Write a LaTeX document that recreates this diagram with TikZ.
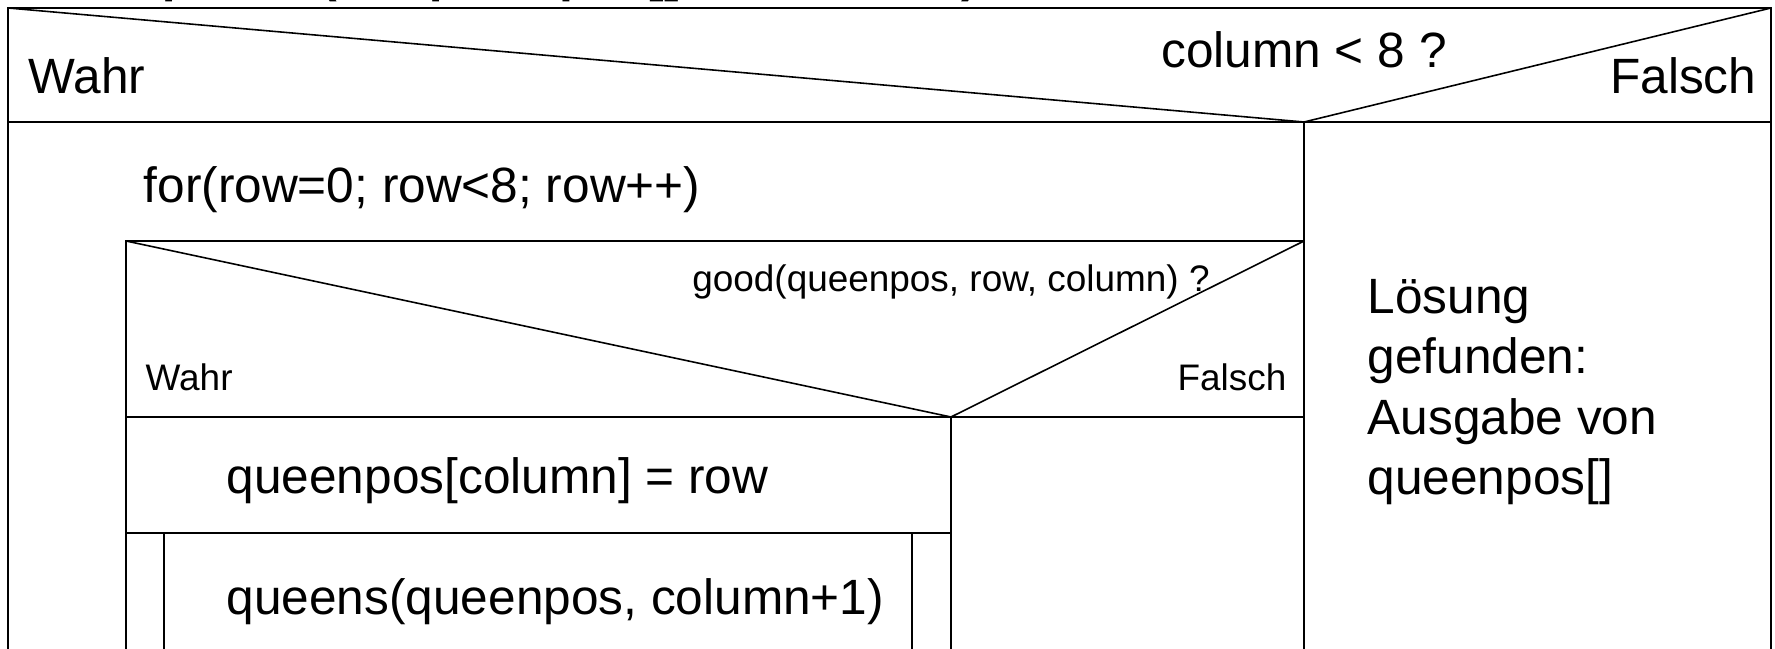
\documentclass[tikz,border=0pt]{standalone}
\usepackage{fontspec}
\setmainfont{Liberation Sans}
\usetikzlibrary{positioning}

\begin{document}
\begin{tikzpicture}[
  x=0.01cm, y=-0.01cm,
  line/.style={draw, line width=0.45pt},
  big/.style={inner sep=0pt, font=\fontsize{14.1}{17.1}\selectfont},
  small/.style={inner sep=0pt, font=\fontsize{10.5}{12.6}\selectfont},
  headline/.style={inner sep=0pt, font=\fontsize{14.2}{17}\selectfont\bfseries}
]
\useasboundingbox (0,0) rectangle (1775,649);

% corners of the blocks
\coordinate (tl) at (8,8);
\coordinate (tr) at (1771,8);
\coordinate (split) at (1304,122);
\coordinate (loop) at (126,241);
\coordinate (ifsplit) at (951,417);

% procedure head (cut off at the top)
\node[headline, anchor=base west] (head) at (145,-8) {queens(int queenpos[], int column)};

% outer decision
\draw[line, line width=0.7pt] (8,649) -- (tl) -- (tr) -- (1771,649);
\draw[line] (tl) -- (split) -- (tr);
\draw[line] (8,122) -- (1771,122);
\draw[line] (split) -- (1304,649);
\node[big, anchor=base] (cond) at (1304,68) {column < 8 ?};
\node[big, anchor=base west] (yes) at (28,94) {Wahr};
\node[big, anchor=base east] (no) at (1757,94) {Falsch};

% for loop
\node[big, anchor=base west] (for) at (143,203) {for(row=0; row<8; row++)};
\draw[line] (126,649) -- (loop) -- (1304,241);

% inner decision
\draw[line] (loop) -- (ifsplit) -- (1304,241);
\draw[line] (126,417) -- (1304,417);
\draw[line] (ifsplit) -- (951,649);
\node[small, anchor=base] (good) at (951,292) {good(queenpos, row, column) ?};
\node[small, anchor=base west] (yes2) at (145,391) {Wahr};
\node[small, anchor=base east] (no2) at (1287,391) {Falsch};

% body
\node[big, anchor=base west] (assign) at (226,494) {queenpos[column] = row};
\draw[line] (126,533) -- (951,533);
\draw[line] (164,533) -- (164,649);
\draw[line] (912,533) -- (912,649);
\node[big, anchor=base west] (call) at (226,615) {queens(queenpos, column+1)};

% output on the right
\node[big, anchor=north west, align=left] (out) at (1367,279)
  {Lösung\\gefunden:\\Ausgabe von\\queenpos[]};
\end{tikzpicture}
\end{document}
